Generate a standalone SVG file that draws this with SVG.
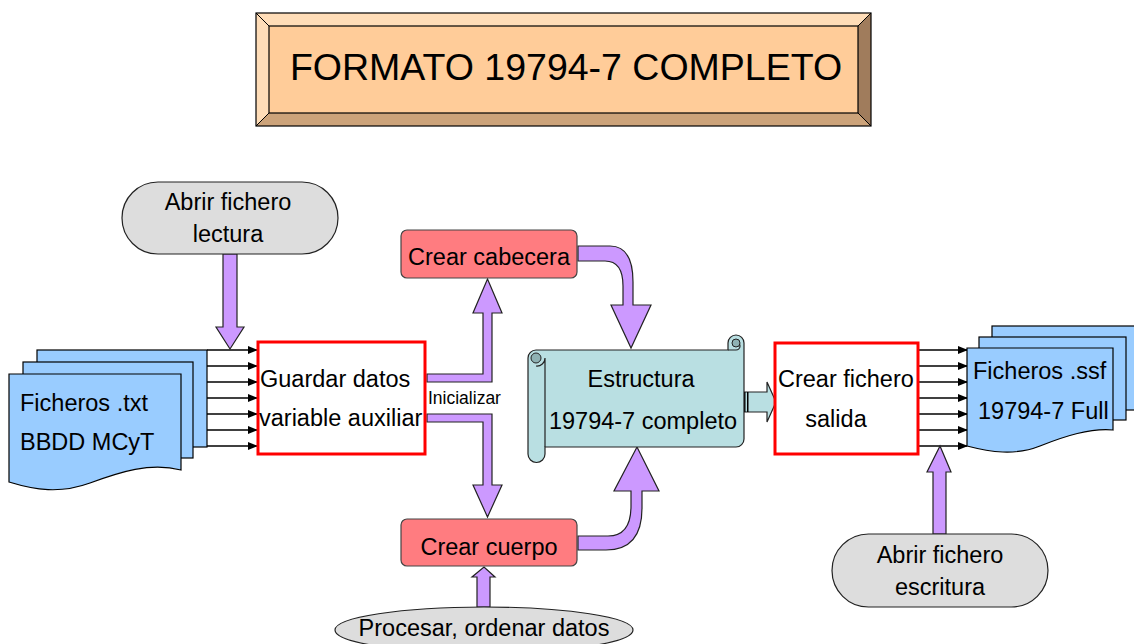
<svg xmlns="http://www.w3.org/2000/svg" width="1134" height="644" viewBox="0 0 1134 644">
<defs>
<marker id="ah" markerWidth="10" markerHeight="8" refX="9" refY="4" orient="auto" markerUnits="userSpaceOnUse">
<path d="M0,0 L10,4 L0,8 Z" fill="#000"/>
</marker>
<style>
text{font-family:"Liberation Sans",Arial,sans-serif;font-size:23.5px;fill:#000}
.c{text-anchor:middle}
.pill{fill:#DDDDDD;stroke:#222;stroke-width:1.2}
.doc{fill:#99CCFF;stroke:#000;stroke-width:1.2}
.red{fill:#fff;stroke:#FF0000;stroke-width:3}
.pink{fill:#FF7C80;stroke:#444;stroke-width:1.2}
.pur{fill:#CC99FF;stroke:#222;stroke-width:1.2;stroke-linejoin:miter}
.teal{fill:#B9DFE2;stroke:#222;stroke-width:1.2}
.ln{stroke:#000;stroke-width:1.3;fill:none;marker-end:url(#ah)}
</style>
</defs>
<rect width="1134" height="644" fill="#fff"/>

<g id="title">
<polygon points="256,13 871,13 858,26 269,26" fill="#FFDDB8"/>
<polygon points="256,13 269,26 269,113 256,126" fill="#FFDDB8"/>
<polygon points="871,13 871,126 858,113 858,26" fill="#A07C5C"/>
<polygon points="256,126 871,126 858,113 269,113" fill="#CCA37A"/>
<rect x="269" y="26" width="589" height="87" fill="#FFCC99" stroke="#000" stroke-width="1.2"/>
<rect x="256" y="13" width="615" height="113" fill="none" stroke="#000" stroke-width="1.2"/>
<line x1="256" y1="13" x2="269" y2="26" stroke="#000" stroke-width="1"/>
<line x1="871" y1="13" x2="858" y2="26" stroke="#000" stroke-width="1"/>
<line x1="256" y1="126" x2="269" y2="113" stroke="#000" stroke-width="1"/>
<line x1="871" y1="126" x2="858" y2="113" stroke="#000" stroke-width="1"/>
<text x="566" y="80" class="c" style="font-size:37.5px">FORMATO 19794-7 COMPLETO</text>
</g>

<g id="connectors">
<line class="ln" x1="207" y1="350" x2="257" y2="350"/>
<line class="ln" x1="207" y1="366" x2="257" y2="366"/>
<line class="ln" x1="207" y1="382" x2="257" y2="382"/>
<line class="ln" x1="207" y1="398" x2="257" y2="398"/>
<line class="ln" x1="207" y1="414" x2="257" y2="414"/>
<line class="ln" x1="207" y1="430" x2="257" y2="430"/>
<line class="ln" x1="207" y1="446" x2="257" y2="446"/>
<line class="ln" x1="918" y1="350" x2="967" y2="350"/>
<line class="ln" x1="918" y1="366" x2="967" y2="366"/>
<line class="ln" x1="918" y1="382" x2="967" y2="382"/>
<line class="ln" x1="918" y1="398" x2="967" y2="398"/>
<line class="ln" x1="918" y1="414" x2="967" y2="414"/>
<line class="ln" x1="918" y1="430" x2="967" y2="430"/>
<line class="ln" x1="918" y1="446" x2="967" y2="446"/>
<path class="pur" d="M223,254 H237 V327 H244 L230,349 L216,327 H223 Z"/>
<path class="pur" d="M427,374 H483 V313 H473 L487.5,279 L502,313 H492 V382 H427 Z"/>
<path class="pur" d="M427,414 H492 V485 H502 L487.5,517 L473,485 H483 V422 H427 Z"/>
<text x="428" y="404" style="font-size:17.5px">Inicializar</text>
<path class="pur" d="M578,246 H610 Q633,246 633,282 V305 H651 L631,348 L611,305 H623 V286 Q623,261 605,261 H578 Z"/>
<path class="pur" d="M578,536 H608 Q631,536 631,506 V491 H614 L637,447 L659,491 H642 V508 Q642,550 606,550 H578 Z"/>
<path class="pur" d="M477,607 V577 H472 L484,567 L495,577 H490 V607 Z"/>
<path class="pur" d="M933,534 V472 H927 L940,446 L951,472 H946 V534 Z"/>
<path class="teal" d="M744,392 H767 V382 L776,402 L767,422 V412 H744 Z"/>
<rect x="744" y="392" width="1.5" height="20" fill="#000"/>
<rect x="747" y="392" width="1.5" height="20" fill="#000"/>
</g>

<g id="abrir-lectura">
<rect class="pill" x="122" y="182" width="216" height="72" rx="36"/>
<text x="228" y="210" class="c">Abrir fichero</text>
<text x="228" y="242" class="c">lectura</text>
</g>

<g id="ficheros-txt">
<rect class="doc" x="37" y="350" width="170" height="97"/>
<rect class="doc" x="23" y="362" width="170" height="96"/>
<path class="doc" d="M9,374 H181 V470 C150,462 120,472 90,483 C60,494 35,490 9,482 Z"/>
<text x="20" y="411">Ficheros .txt</text>
<text x="20" y="450">BBDD MCyT</text>
</g>

<g id="guardar">
<rect class="red" x="258" y="342" width="167" height="112"/>
<text x="260" y="387">Guardar datos</text>
<text x="259" y="426">variable auxiliar</text>
</g>

<g id="cabecera">
<rect class="pink" x="401" y="230" width="176" height="48" rx="6"/>
<text x="489" y="265" class="c">Crear cabecera</text>
</g>

<g id="cuerpo">
<rect class="pink" x="401" y="519" width="176" height="47" rx="6"/>
<text x="489" y="555" class="c">Crear cuerpo</text>
</g>

<g id="procesar">
<ellipse class="pill" cx="484" cy="630" rx="149" ry="23"/>
<text x="484" y="636" class="c">Procesar, ordenar datos</text>
</g>

<g id="estructura">
<path class="teal" d="M536,350 H728 V343 A8,8 0 0 1 744,343 V439 A8,8 0 0 1 736,447 H545 V454 A8.5,8.5 0 0 1 528,454 V358 A8,8 0 0 1 536,350 Z"/>
<path d="M728,350 H736 A4,4 0 0 0 736,342" fill="none" stroke="#222" stroke-width="1.2"/>
<circle cx="736" cy="343" r="4" fill="#8FB2B4" stroke="#222" stroke-width="1"/>
<circle cx="536" cy="358" r="5" fill="#8FB2B4" stroke="#222" stroke-width="1"/>
<path d="M536,366 A8,8 0 0 0 545,358 V447" fill="none" stroke="#222" stroke-width="1.2"/>
<text x="641" y="387" class="c">Estructura</text>
<text x="643" y="429" class="c">19794-7 completo</text>
</g>

<g id="crear-fichero">
<rect class="red" x="775" y="343" width="143" height="111"/>
<text x="778" y="387">Crear fichero</text>
<text x="836" y="427" class="c">salida</text>
</g>

<g id="ficheros-ssf">
<rect class="doc" x="992" y="326" width="150" height="84"/>
<rect class="doc" x="979" y="337" width="147" height="83"/>
<path class="doc" d="M967,348 H1113 V430 C1090,428 1065,436 1040,446 C1015,456 990,452 967,446 Z"/>
<text x="973" y="379">Ficheros .ssf</text>
<text x="978" y="419">19794-7 Full</text>
</g>

<g id="abrir-escritura">
<rect class="pill" x="832" y="534" width="216" height="73" rx="36.5"/>
<text x="940" y="563" class="c">Abrir fichero</text>
<text x="940" y="595" class="c">escritura</text>
</g>
</svg>
